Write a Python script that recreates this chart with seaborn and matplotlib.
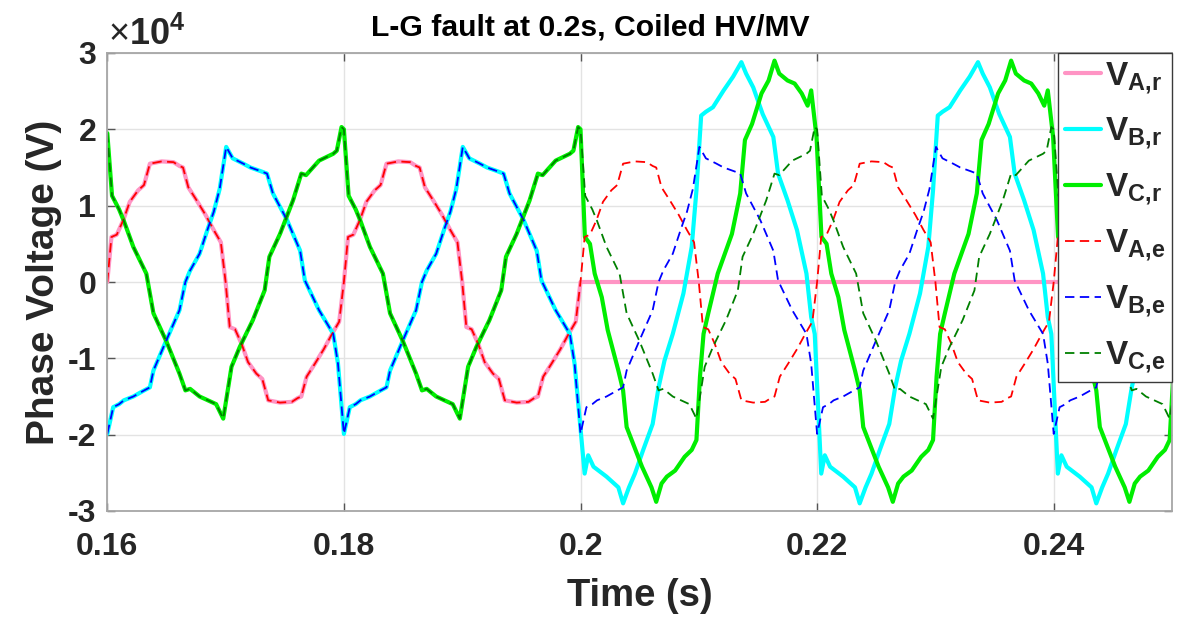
import matplotlib
matplotlib.use("Agg")
import numpy as np
import pandas as pd
import seaborn as sns
import matplotlib.pyplot as plt

# ---------------- data (time in ms, voltage in units of 1e4 V) ----------------
title = "L-G fault at 0.2s, Coiled HV/MV"
x_label = "Time (s)"
y_label = "Phase Voltage (V)"
x_ticks = [0.16, 0.18, 0.20, 0.22, 0.24]
x_tick_labels = ["0.16", "0.18", "0.2", "0.22", "0.24"]
y_ticks = [3, 2, 1, 0, -1, -2, -3]
y_tick_labels = ["3", "2", "1", "0", "-1", "-2", "-3"]
y_scale = 1e4
series_names = ["A,r", "B,r", "C,r", "A,e", "B,e", "C,e"]
fault_time_ms = 200.0

# Phase A, expected (continuous over whole window)
va_e_t = [160.0, 160.35, 160.8, 161.35, 161.9, 162.6, 163.1, 163.6, 164.6, 165.6, 166.1, 166.4, 166.85, 167.55, 168.3, 169.0, 169.6, 170.0, 170.35, 170.8, 171.35, 171.9, 172.6, 173.1, 173.6, 174.6, 175.6, 176.1, 176.4, 176.85, 177.55, 178.3, 179.0, 179.6,
          180.0, 180.35, 180.8, 181.35, 181.9, 182.6, 183.1, 183.6, 184.6, 185.6, 186.1, 186.4, 186.85, 187.55, 188.3, 189.0, 189.6, 190.0, 190.35, 190.8, 191.35, 191.9, 192.6, 193.1, 193.6, 194.6, 195.6, 196.1, 196.4, 196.85, 197.55, 198.3, 199.0, 199.6,
          200.0, 200.35, 200.8, 201.35, 201.9, 202.6, 203.1, 203.6, 204.6, 205.6, 206.1, 206.4, 206.85, 207.55, 208.3, 209.0, 209.6, 210.0, 210.35, 210.8, 211.35, 211.9, 212.6, 213.1, 213.6, 214.6, 215.6, 216.1, 216.4, 216.85, 217.55, 218.3, 219.0, 219.6,
          220.0, 220.35, 220.8, 221.35, 221.9, 222.6, 223.1, 223.6, 224.6, 225.6, 226.1, 226.4, 226.85, 227.55, 228.3, 229.0, 229.6, 230.0, 230.35, 230.8, 231.35, 231.9, 232.6, 233.1, 233.6, 234.6, 235.6, 236.1, 236.4, 236.85, 237.55, 238.3, 239.0, 239.6,
          240.0, 240.35, 240.8, 241.35, 241.9, 242.6, 243.1, 243.6, 244.6, 245.6, 246.1, 246.4, 246.85, 247.55, 248.3, 249.0, 249.6, 250.0]
va_e_v = [0.0, 0.59, 0.62, 0.81, 1.05, 1.2, 1.27, 1.55, 1.58, 1.57, 1.52, 1.5, 1.24, 1.07, 0.88, 0.68, 0.52, 0.0, -0.59, -0.62, -0.81, -1.05, -1.2, -1.27, -1.55, -1.58, -1.57, -1.52, -1.5, -1.24, -1.07, -0.88, -0.68, -0.52,
          0.0, 0.59, 0.62, 0.81, 1.05, 1.2, 1.27, 1.55, 1.58, 1.57, 1.52, 1.5, 1.24, 1.07, 0.88, 0.68, 0.52, 0.0, -0.59, -0.62, -0.81, -1.05, -1.2, -1.27, -1.55, -1.58, -1.57, -1.52, -1.5, -1.24, -1.07, -0.88, -0.68, -0.52,
          0.0, 0.59, 0.62, 0.81, 1.05, 1.2, 1.27, 1.55, 1.58, 1.57, 1.52, 1.5, 1.24, 1.07, 0.88, 0.68, 0.52, 0.0, -0.59, -0.62, -0.81, -1.05, -1.2, -1.27, -1.55, -1.58, -1.57, -1.52, -1.5, -1.24, -1.07, -0.88, -0.68, -0.52,
          0.0, 0.59, 0.62, 0.81, 1.05, 1.2, 1.27, 1.55, 1.58, 1.57, 1.52, 1.5, 1.24, 1.07, 0.88, 0.68, 0.52, 0.0, -0.59, -0.62, -0.81, -1.05, -1.2, -1.27, -1.55, -1.58, -1.57, -1.52, -1.5, -1.24, -1.07, -0.88, -0.68, -0.52,
          0.0, 0.59, 0.62, 0.81, 1.05, 1.2, 1.27, 1.55, 1.58, 1.57, 1.52, 1.5, 1.24, 1.07, 0.88, 0.68, 0.52, 0.0]

# Phase B, expected
vb_e_t = [160.0, 160.5, 161.0, 161.4, 162.2, 163.0, 163.6, 163.9, 165.0, 166.1, 166.6, 167.0, 167.8, 168.5, 169.0, 169.5, 170.05, 170.6, 171.5, 172.1, 173.0, 173.5, 174.0, 175.2, 176.3, 176.7, 177.9, 179.1, 179.5,
          180.0, 180.5, 181.0, 181.4, 182.2, 183.0, 183.6, 183.9, 185.0, 186.1, 186.6, 187.0, 187.8, 188.5, 189.0, 189.5, 190.05, 190.6, 191.5, 192.1, 193.0, 193.5, 194.0, 195.2, 196.3, 196.7, 197.9, 199.1, 199.5,
          200.0, 200.5, 201.0, 201.4, 202.2, 203.0, 203.6, 203.9, 205.0, 206.1, 206.6, 207.0, 207.8, 208.5, 209.0, 209.5, 210.05, 210.6, 211.5, 212.1, 213.0, 213.5, 214.0, 215.2, 216.3, 216.7, 217.9, 219.1, 219.5,
          220.0, 220.5, 221.0, 221.4, 222.2, 223.0, 223.6, 223.9, 225.0, 226.1, 226.6, 227.0, 227.8, 228.5, 229.0, 229.5, 230.05, 230.6, 231.5, 232.1, 233.0, 233.5, 234.0, 235.2, 236.3, 236.7, 237.9, 239.1, 239.5,
          240.0, 240.5, 241.0, 241.4, 242.2, 243.0, 243.6, 243.9, 245.0, 246.1, 246.6, 247.0, 247.8, 248.5, 249.0, 249.5, 250.05]
vb_e_v = [-1.99, -1.64, -1.6, -1.55, -1.5, -1.43, -1.38, -1.16, -0.76, -0.37, 0.0, 0.15, 0.37, 0.7, 0.92, 1.22, 1.77, 1.62, 1.55, 1.5, 1.45, 1.42, 1.16, 0.81, 0.41, 0.02, -0.37, -0.68, -1.07,
          -1.99, -1.64, -1.6, -1.55, -1.5, -1.43, -1.38, -1.16, -0.76, -0.37, 0.0, 0.15, 0.37, 0.7, 0.92, 1.22, 1.77, 1.62, 1.55, 1.5, 1.45, 1.42, 1.16, 0.81, 0.41, 0.02, -0.37, -0.68, -1.07,
          -1.99, -1.64, -1.6, -1.55, -1.5, -1.43, -1.38, -1.16, -0.76, -0.37, 0.0, 0.15, 0.37, 0.7, 0.92, 1.22, 1.77, 1.62, 1.55, 1.5, 1.45, 1.42, 1.16, 0.81, 0.41, 0.02, -0.37, -0.68, -1.07,
          -1.99, -1.64, -1.6, -1.55, -1.5, -1.43, -1.38, -1.16, -0.76, -0.37, 0.0, 0.15, 0.37, 0.7, 0.92, 1.22, 1.77, 1.62, 1.55, 1.5, 1.45, 1.42, 1.16, 0.81, 0.41, 0.02, -0.37, -0.68, -1.07,
          -1.99, -1.64, -1.6, -1.55, -1.5, -1.43, -1.38, -1.16, -0.76, -0.37, 0.0, 0.15, 0.37, 0.7, 0.92, 1.22, 1.77]

# Phase C, expected
vc_e_t = [160.0, 160.4, 161.0, 161.4, 162.2, 163.3, 163.9, 165.0, 166.1, 166.6, 167.0, 167.8, 169.2, 169.8, 170.5, 171.2, 172.3, 173.3, 173.7, 174.6, 175.7, 176.4, 176.8, 177.9, 179.1, 179.4, 179.8,
          180.0, 180.4, 181.0, 181.4, 182.2, 183.3, 183.9, 185.0, 186.1, 186.6, 187.0, 187.8, 189.2, 189.8, 190.5, 191.2, 192.3, 193.3, 193.7, 194.6, 195.7, 196.4, 196.8, 197.9, 199.1, 199.4, 199.8,
          200.0, 200.4, 201.0, 201.4, 202.2, 203.3, 203.9, 205.0, 206.1, 206.6, 207.0, 207.8, 209.2, 209.8, 210.5, 211.2, 212.3, 213.3, 213.7, 214.6, 215.7, 216.4, 216.8, 217.9, 219.1, 219.4, 219.8,
          220.0, 220.4, 221.0, 221.4, 222.2, 223.3, 223.9, 225.0, 226.1, 226.6, 227.0, 227.8, 229.2, 229.8, 230.5, 231.2, 232.3, 233.3, 233.7, 234.6, 235.7, 236.4, 236.8, 237.9, 239.1, 239.4, 239.8,
          240.0, 240.4, 241.0, 241.4, 242.2, 243.3, 243.9, 245.0, 246.1, 246.6, 247.0, 247.8, 249.2, 249.8, 250.5]
vc_e_v = [1.95, 1.13, 0.95, 0.8, 0.46, 0.11, -0.41, -0.78, -1.2, -1.42, -1.4, -1.5, -1.6, -1.79, -1.11, -0.85, -0.5, -0.11, 0.33, 0.63, 1.07, 1.42, 1.4, 1.59, 1.68, 1.72, 2.03,
          2.0, 1.13, 0.95, 0.8, 0.46, 0.11, -0.41, -0.78, -1.2, -1.42, -1.4, -1.5, -1.6, -1.79, -1.11, -0.85, -0.5, -0.11, 0.33, 0.63, 1.07, 1.42, 1.4, 1.59, 1.68, 1.72, 2.03,
          2.0, 1.13, 0.95, 0.8, 0.46, 0.11, -0.41, -0.78, -1.2, -1.42, -1.4, -1.5, -1.6, -1.79, -1.11, -0.85, -0.5, -0.11, 0.33, 0.63, 1.07, 1.42, 1.4, 1.59, 1.68, 1.72, 2.03,
          2.0, 1.13, 0.95, 0.8, 0.46, 0.11, -0.41, -0.78, -1.2, -1.42, -1.4, -1.5, -1.6, -1.79, -1.11, -0.85, -0.5, -0.11, 0.33, 0.63, 1.07, 1.42, 1.4, 1.59, 1.68, 1.72, 2.03,
          2.0, 1.13, 0.95, 0.8, 0.46, 0.11, -0.41, -0.78, -1.2, -1.42, -1.4, -1.5, -1.6, -1.79, -1.11]

# Real (measured) phases after the fault
va_r_post_t = [250.0]
va_r_post_v = [0.0]

vb_r_post_t = [200.35, 200.65, 201.1, 202.2, 203.2, 203.6, 204.1, 204.6, 205.3, 206.1, 206.6, 207.1, 207.8, 208.7, 209.4, 209.8, 210.2, 210.6, 211.2, 212.1, 212.9, 213.6, 214.0, 214.6, 215.4, 216.3, 216.7, 217.5, 218.3, 219.1, 219.5, 219.8,
               220.35, 220.65, 221.1, 222.2, 223.2, 223.6, 224.1, 224.6, 225.3, 226.1, 226.6, 227.1, 227.8, 228.7, 229.4, 229.8, 230.2, 230.6, 231.2, 232.1, 232.9, 233.6, 234.0, 234.6, 235.4, 236.3, 236.7, 237.5, 238.3, 239.1, 239.5, 239.8,
               240.35, 240.65, 241.1, 242.2, 243.2, 243.6, 244.1, 244.6, 245.3, 246.1, 246.6, 247.1, 247.8, 248.7, 249.4, 249.8, 250.2]
vb_r_post_v = [-2.51, -2.27, -2.42, -2.55, -2.69, -2.9, -2.69, -2.51, -2.2, -1.86, -1.38, -1.03, -0.68, -0.15, 0.46, 1.2, 2.18, 2.23, 2.29, 2.51, 2.69, 2.88, 2.73, 2.55, 2.2, 1.9, 1.42, 1.07, 0.68, 0.11, -0.46, -0.68,
               -2.51, -2.27, -2.42, -2.55, -2.69, -2.9, -2.69, -2.51, -2.2, -1.86, -1.38, -1.03, -0.68, -0.15, 0.46, 1.2, 2.18, 2.23, 2.29, 2.51, 2.69, 2.88, 2.73, 2.55, 2.2, 1.9, 1.42, 1.07, 0.68, 0.11, -0.46, -0.68,
               -2.51, -2.27, -2.42, -2.55, -2.69, -2.9, -2.69, -2.51, -2.2, -1.86, -1.38, -1.03, -0.68, -0.15, 0.46, 1.2, 2.18]

vc_r_post_t = [200.37, 200.8, 201.2, 201.8, 202.3, 203.2, 203.6, 203.9, 204.45, 205.2, 206.0, 206.4, 206.85, 207.3, 208.0, 208.8, 209.4, 209.8, 210.1, 210.4, 210.8, 211.6, 212.8, 213.5, 213.9, 214.5, 215.3, 215.9, 216.4, 216.8, 217.5, 218.1, 218.7, 219.2, 219.5, 219.95,
               220.37, 220.8, 221.2, 221.8, 222.3, 223.2, 223.6, 223.9, 224.45, 225.2, 226.0, 226.4, 226.85, 227.3, 228.0, 228.8, 229.4, 229.8, 230.1, 230.4, 230.8, 231.6, 232.8, 233.5, 233.9, 234.5, 235.3, 235.9, 236.4, 236.8, 237.5, 238.1, 238.7, 239.2, 239.5, 239.95,
               240.37, 240.8, 241.2, 241.8, 242.3, 243.2, 243.6, 243.9, 244.45, 245.2, 246.0, 246.4, 246.85, 247.3, 248.0, 248.8, 249.4, 249.8, 250.1]
vc_r_post_v = [0.59, 0.5, 0.11, -0.2, -0.63, -1.16, -1.42, -1.9, -2.12, -2.42, -2.69, -2.88, -2.64, -2.55, -2.47, -2.29, -2.2, -2.07, -1.24, -0.68, -0.41, 0.11, 0.63, 1.16, 1.86, 2.07, 2.47, 2.64, 2.9, 2.73, 2.64, 2.6, 2.47, 2.31, 2.51, 1.9,
               0.59, 0.5, 0.11, -0.2, -0.63, -1.16, -1.42, -1.9, -2.12, -2.42, -2.69, -2.88, -2.64, -2.55, -2.47, -2.29, -2.2, -2.07, -1.24, -0.68, -0.41, 0.11, 0.63, 1.16, 1.86, 2.07, 2.47, 2.64, 2.9, 2.73, 2.64, 2.6, 2.47, 2.31, 2.51, 1.9,
               0.59, 0.5, 0.11, -0.2, -0.63, -1.16, -1.42, -1.9, -2.12, -2.42, -2.69, -2.88, -2.64, -2.55, -2.47, -2.29, -2.2, -2.07, -1.24]

# ---------------- build tables ----------------
def frame(t_ms, v, name):
    return pd.DataFrame({"t": np.asarray(t_ms) / 1000.0,
                         "v": np.asarray(v) * y_scale,
                         "series": name})

ea = frame(va_e_t, va_e_v, "A,e")
eb = frame(vb_e_t, vb_e_v, "B,e")
ec = frame(vc_e_t, vc_e_v, "C,e")
# before the fault the real voltages coincide with the expected ones
ra = pd.concat([frame(va_e_t, va_e_v, "A,r").query("t <= @fault_time_ms/1000"),
                frame(va_r_post_t, va_r_post_v, "A,r")])
rb = pd.concat([frame(vb_e_t, vb_e_v, "B,r").query("t < @fault_time_ms/1000"),
                frame(vb_r_post_t, vb_r_post_v, "B,r")])
rc = pd.concat([frame(vc_e_t, vc_e_v, "C,r").query("t <= @fault_time_ms/1000"),
                frame(vc_r_post_t, vc_r_post_v, "C,r")])
df = pd.concat([ra, rb, rc, ea, eb, ec], ignore_index=True)

styles = {
    "A,r": dict(color="#ff94c4", lw=3.0, ls="-"),
    "B,r": dict(color="#00ffff", lw=3.0, ls="-"),
    "C,r": dict(color="#00ee00", lw=3.0, ls="-"),
    "A,e": dict(color="#ff0000", lw=1.3, ls=(0, (5.2, 3.0))),
    "B,e": dict(color="#0000ff", lw=1.3, ls=(0, (5.2, 3.0))),
    "C,e": dict(color="#008000", lw=1.3, ls=(0, (5.2, 3.0))),
}

# ---------------- plot ----------------
sns.set_theme(style="white")
plt.rcParams["font.family"] = ["Liberation Sans", "DejaVu Sans"]
plt.rcParams["mathtext.fontset"] = "custom"
plt.rcParams["mathtext.rm"] = "Liberation Sans"
plt.rcParams["mathtext.bf"] = "Liberation Sans:bold"
plt.rcParams["mathtext.it"] = "Liberation Sans:italic"

W, H = 1186, 617
fig = plt.figure(figsize=(W / 100, H / 100), dpi=100)
ax_l, ax_r, ax_t, ax_b = 107.3, 1172.0, 53.0, 511.0
ax = fig.add_axes([ax_l / W, 1 - ax_b / H, (ax_r - ax_l) / W, (ax_b - ax_t) / H])

for name in series_names:
    st = styles[name]
    sns.lineplot(data=df[df["series"] == name], x="t", y="v", ax=ax,
                 sort=False, estimator=None, color=st["color"], linewidth=st["lw"],
                 linestyle=st["ls"], label=r"$\mathbf{V_{%s}}$" % name.replace(",", ",\!"))

ax.set_xlim(0.16, 0.25)
ax.set_ylim(-3 * y_scale, 3 * y_scale)
ax.set_xticks(x_ticks)
ax.set_xticklabels(x_tick_labels)
ax.set_yticks([y * y_scale for y in y_ticks])
ax.set_yticklabels(y_tick_labels)
ax.grid(True, color="#e3e3e3", linewidth=1.0)
ax.set_axisbelow(True)
for sp in ax.spines.values():
    sp.set_color("#a6a6a6")
    sp.set_linewidth(1.3)
    sp.set_visible(True)
ax.tick_params(axis="both", which="both", direction="in", length=6, width=1,
               color="#555555", labelsize=23, labelcolor="#262626",
               top=True, right=True, bottom=True, left=True)
ax.tick_params(axis="x", pad=15)
ax.tick_params(axis="y", pad=8)
for lab in ax.get_xticklabels() + ax.get_yticklabels():
    lab.set_fontweight("bold")

ax.set_xlabel(x_label, fontsize=27.5, fontweight="bold", color="#262626")
ax.set_ylabel(y_label, fontsize=28, fontweight="bold", color="#262626")
ax.xaxis.set_label_coords(0.5, (ax_b - 578) / (ax_b - ax_t))
ax.yaxis.set_label_coords((62 - ax_l) / (ax_r - ax_l), 0.5)

fig.text(590 / W, 1 - 35 / H, title, ha="center", va="baseline",
         fontsize=21.7, fontweight="bold", color="black")
fig.text(108 / W, 1 - 45 / H, r"$\times\mathbf{10^{4}}$", ha="left", va="baseline",
         fontsize=26, color="#262626")

handles, labels = ax.get_legend_handles_labels()
leg = ax.legend(handles, labels, loc="upper right", bbox_to_anchor=(1.0, 1.0),
                borderaxespad=0.0, fontsize=24, frameon=True, fancybox=False,
                framealpha=1.0, edgecolor="#3a3a3a", handlelength=1.1,
                handletextpad=0.1, borderpad=0.2, labelspacing=0.6)
leg.get_frame().set_linewidth(1.0)

fig.savefig("out.png", dpi=100, facecolor="white")
